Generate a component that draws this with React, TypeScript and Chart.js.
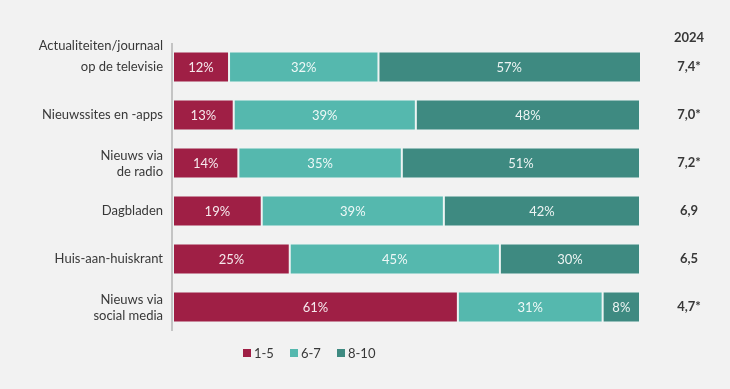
import React, { useEffect, useRef } from "react";
import { Chart, registerables } from "chart.js";

Chart.register(...registerables);

const categories: string[][] = [
  ["Actualiteiten/journaal", "op de televisie"],
  ["Nieuwssites en -apps"],
  ["Nieuws via", "de radio"],
  ["Dagbladen"],
  ["Huis-aan-huiskrant"],
  ["Nieuws via", "social media"],
];
const seriesNames = ["1-5", "6-7", "8-10"];
const low = [12, 13, 14, 19, 25, 61];
const mid = [32, 39, 35, 39, 45, 31];
const high = [57, 48, 51, 42, 30, 8];
const scoreHeader = "2024";
const scores = ["7,4*", "7,0*", "7,2*", "6,9", "6,5", "4,7*"];

const colors = ["#9f1f45", "#55b8ae", "#3e8a81"];
const FONT = "Lato, 'DejaVu Sans', sans-serif";
const TEXT = "#383838";

const overlay = {
  id: "overlay",
  afterDatasetsDraw(chart: any) {
    const ctx = chart.ctx;
    const area = chart.chartArea;
    const yScale = chart.scales.y;
    ctx.save();
    // left axis line
    ctx.strokeStyle = "#b4b4b4";
    ctx.lineWidth = 1.5;
    ctx.beginPath();
    ctx.moveTo(area.left - 1, area.top);
    ctx.lineTo(area.left - 1, area.bottom);
    ctx.stroke();

    // data labels
    ctx.font = `13px ${FONT}`;
    ctx.textAlign = "center";
    ctx.textBaseline = "middle";
    ctx.fillStyle = "rgba(255,255,255,0.9)";
    chart.data.datasets.forEach((ds: any, di: number) => {
      const meta = chart.getDatasetMeta(di);
      meta.data.forEach((bar: any, i: number) => {
        const left = Math.max(area.left, Math.min(bar.base, bar.x));
        const right = Math.min(area.right, Math.max(bar.base, bar.x));
        ctx.fillText(`${ds.data[i]}%`, (left + right) / 2, bar.y + 1);
      });
    });

    // category labels
    ctx.font = `13px ${FONT}`;
    ctx.fillStyle = TEXT;
    ctx.textAlign = "right";
    categories.forEach((lines, i) => {
      const y = yScale.getPixelForValue(i);
      const x = area.left - 10;
      if (lines.length === 1) {
        ctx.fillText(lines[0], x, y);
      } else if (i === 0) {
        ctx.fillText(lines[0], x, y - 21);
        ctx.fillText(lines[1], x, y);
      } else {
        ctx.fillText(lines[0], x, y - 7);
        ctx.fillText(lines[1], x, y + 9);
      }
    });

    // score column
    ctx.textAlign = "center";
    ctx.font = `bold 13px ${FONT}`;
    const sx = area.right + 49;
    ctx.fillText(scoreHeader, sx, yScale.getPixelForValue(0) - 29);
    scores.forEach((s, i) => {
      ctx.fillText(s, sx, yScale.getPixelForValue(i));
    });

    // legend
    ctx.font = `13px ${FONT}`;
    ctx.textAlign = "left";
    const ly = area.bottom + 22;
    const starts = [area.left + 70, area.left + 117, area.left + 164];
    seriesNames.forEach((n, i) => {
      ctx.fillStyle = colors[i];
      ctx.fillRect(starts[i], ly - 4, 8, 8);
      ctx.fillStyle = TEXT;
      ctx.fillText(n, starts[i] + 11, ly + 1);
    });
    ctx.restore();
  },
};

export default function App() {
  const ref = useRef<HTMLCanvasElement | null>(null);
  useEffect(() => {
    document.body.style.margin = "0";
    document.body.style.background = "#f2f2f2";
    document.body.style.overflow = "hidden";
    const chart = new Chart(ref.current!, {
      type: "bar",
      data: {
        labels: categories.map((c) => c.join(" ")),
        datasets: [low, mid, high].map((d, i) => ({
          label: seriesNames[i],
          data: d,
          backgroundColor: colors[i],
          borderColor: "rgba(235,245,244,0.9)",
          borderWidth: 1,
          borderSkipped: false,
          categoryPercentage: 1,
          barPercentage: 0.65,
        })),
      },
      options: {
        indexAxis: "y",
        animation: false,
        responsive: false,
        layout: { padding: { left: 173, right: 90, top: 43, bottom: 58 } },
        scales: {
          x: { display: false, stacked: true, min: 0, max: 100 },
          y: { display: false, stacked: true },
        },
        plugins: { legend: { display: false }, tooltip: { enabled: false } },
      },
      plugins: [overlay],
    });
    return () => chart.destroy();
  }, []);
  return (
    <div style={{ width: 730, height: 389, background: "#f2f2f2" }}>
      <canvas ref={ref} width={730} height={389} />
    </div>
  );
}
